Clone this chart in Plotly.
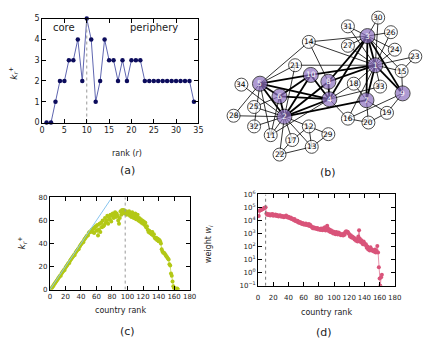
import plotly.graph_objects as go

W, H = 436, 349

# (a) k_r^+ vs rank in the karate club network
rank_a = list(range(1, 35))
kplus_a = [0, 0, 1, 2, 2, 3, 3, 4, 2, 5, 4, 1, 2, 4, 3, 3, 2, 3, 2, 3, 3, 3,
           2, 2, 2, 2, 2, 2, 2, 2, 2, 2, 2, 1]

# (b) network: node positions (pixels of the panel) and edges
node_ids = list(range(1, 35))
node_x = [381, 288, 373, 334, 263, 283, 372, 333, 409, 315, 274, 313, 316, 313, 408, 353, 296,
          359, 393, 374, 299, 283, 422, 401, 257, 397, 353, 236, 333, 384, 353, 257, 386, 244]
node_y = [62, 115, 32, 97, 81, 94, 98, 79, 91, 72, 134, 125, 146, 38, 68, 117, 139,
          81, 111, 121, 62, 154, 53, 46, 105, 28, 42, 114, 133, 13, 22, 125, 84, 82]
edges = [(2, 5), (2, 4), (2, 6), (2, 22), (2, 12), (2, 13), (2, 11), (2, 8), (2, 17), (2, 34),
         (2, 25), (2, 10), (2, 28), (2, 21), (2, 32), (2, 7),
         (5, 4), (5, 6), (5, 11), (5, 10), (5, 28), (5, 21), (5, 32), (5, 14),
         (4, 6), (4, 11), (4, 8), (4, 33), (4, 10), (4, 16), (4, 18), (4, 3),
         (6, 11), (6, 25), (6, 10), (22, 13), (22, 17), (12, 13), (12, 17), (12, 29), (13, 29),
         (8, 14), (8, 3), (8, 1), (33, 1), (10, 1),
         (24, 3), (24, 1), (26, 3), (26, 1), (27, 3), (27, 1), (30, 3), (30, 1), (31, 3), (31, 1),
         (21, 1), (9, 19), (9, 16), (9, 15), (9, 3), (9, 1), (20, 19), (20, 16), (20, 7), (19, 7),
         (23, 15), (23, 1), (16, 1), (18, 7), (18, 1), (15, 3), (15, 1), (14, 3), (14, 1),
         (7, 3), (7, 1), (3, 1)]
n_core = 10

# (c) k_r^+ for countries
kplus_c = [0, 1, 2, 3, 4, 5, 6, 7, 8, 9,
           10, 11, 12, 12, 14, 15, 16, 17, 17, 19,
           20, 21, 22, 23, 23, 25, 26, 27, 28, 29,
           30, 30, 32, 33, 34, 35, 35, 37, 38, 39,
           40, 41, 41, 43, 44, 45, 46, 47, 47, 49,
           50, 50, 51, 52, 50, 53, 49, 54, 55, 51,
           56, 47, 52, 57, 50, 58, 54, 60, 55, 56,
           62, 58, 60, 64, 57, 63, 61, 65, 59, 64,
           66, 62, 65, 67, 63, 66, 64, 60, 57, 62,
           68, 65, 69, 67, 69, 66, 68, 68, 65, 67,
           66, 68, 64, 66, 63, 67, 65, 62, 64, 66,
           61, 63, 65, 60, 62, 59, 61, 58, 60, 57,
           59, 56, 58, 54, 55, 52, 50, 51, 49, 50,
           48, 50, 47, 48, 45, 44, 45, 43, 44, 42,
           43, 42, 40, 35, 33, 32, 32, 31, 30, 29,
           28, 27, 26, 22, 21, 14, 12, 7, 3, 1,
           1, 1, 0, 1, 0]
rank_c = list(range(1, len(kplus_c) + 1))
diag_x = [0, 80]
diag_y = [0, 80]

# (d) weights
weight_d = [2.2e4, 5.5e4, 6e4, 6.5e4, 7e4, 7.5e4, 8e4, 9e4, 9.5e4, 1.05e5,
            3.5e4, 2.8e4, 3.2e4, 2.6e4, 3.0e4, 2.4e4, 2.9e4, 2.7e4, 3.1e4, 2.3e4,
            2.8e4, 2.5e4, 2.9e4, 2.2e4, 2.6e4, 2.4e4, 2.0e4, 2.3e4, 2.5e4, 2.1e4,
            1.9e4, 2.2e4, 2.0e4, 1.8e4, 2.1e4, 1.9e4, 2.4e4, 2.0e4, 1.7e4, 1.9e4,
            1.6e4, 1.5e4, 1.7e4, 1.3e4, 1.4e4, 1.2e4, 1.1e4, 1.3e4, 9e3, 1.0e4,
            8.5e3, 9.5e3, 7e3, 8e3, 6.5e3, 7.5e3, 6e3, 5.5e3, 6.5e3, 5e3,
            5.5e3, 4.8e3, 6e3, 4.5e3, 5e3, 4.2e3, 5.5e3, 3.8e3, 4.5e3, 3.5e3,
            3.2e3, 2.6e3, 3.0e3, 2.4e3, 2.8e3, 2.5e3, 2.2e3, 2.7e3, 2.0e3, 2.3e3,
            2.1e3, 1.9e3, 2.4e3, 2.0e3, 1.8e3, 2.6e3, 2.2e3, 3.0e3, 1.7e3, 2.1e3,
            4e3, 2.5e3, 1.6e3, 2.0e3, 1.3e3, 1.8e3, 1.2e3, 1.5e3, 1.0e3, 1.4e3,
            1.1e3, 9e2, 1.3e3, 1.0e3, 8.5e2, 1.2e3, 9e2, 1.0e3, 7.5e2, 8e2,
            9e2, 7e2, 1.0e3, 8e2, 1.3e3, 1.5e3, 1.2e3, 1.4e3, 1.1e3, 9e2,
            6e2, 7.5e2, 5e2, 6e2, 4.5e2, 5e2, 3.5e2, 4e2, 2.8e2, 3.5e2,
            2.5e2, 6e2, 1.8e3, 4e2, 2.2e2, 3e2, 2.0e2, 1.5e2, 2.5e2, 1.8e2,
            1.3e2, 1.5e2, 8e1, 1e2, 6e1, 7e1, 5e1, 9e1, 5.5e1, 6e1,
            4.5e1, 5e1, 4e1, 6e1, 3.5e1, 4.5e1, 1.1e2, 3.5e1, 2.6, 0.35,
            0.1, 0.45, 0.7]
rank_d = list(range(1, len(weight_d) + 1))

FONT = "DejaVu Sans"
fig = go.Figure()

# panel a
fig.add_trace(go.Scatter(x=rank_a, y=kplus_a, mode="lines+markers",
                         line=dict(color="#5f66b0", width=1),
                         marker=dict(color="#0c0c5c", size=4.5),
                         xaxis="x", yaxis="y", showlegend=False, cliponaxis=False))
fig.add_trace(go.Scatter(x=[10, 10], y=[0, 5], mode="lines",
                         line=dict(color="#999999", width=1, dash="dot"),
                         xaxis="x", yaxis="y", showlegend=False))

# panel b: edges (thick between core nodes)
for thick in (False, True):
    ex, ey = [], []
    for a, b in edges:
        if (a <= n_core and b <= n_core) == thick:
            ex += [node_x[a - 1], node_x[b - 1], None]
            ey += [node_y[a - 1], node_y[b - 1], None]
    fig.add_trace(go.Scatter(x=ex, y=ey, mode="lines",
                             line=dict(color="black", width=1.8 if thick else 0.8),
                             xaxis="x4", yaxis="y4", showlegend=False, hoverinfo="skip"))
fig.add_trace(go.Scatter(
    x=node_x, y=node_y, mode="markers",
    marker=dict(size=[15 if i <= n_core else 13 for i in node_ids],
                color=["#8c70c0" if i <= n_core else "white" for i in node_ids],
                line=dict(color="black", width=1)),
    xaxis="x4", yaxis="y4", showlegend=False, hoverinfo="skip"))
for i in node_ids:
    fig.add_annotation(text=str(i), x=node_x[i - 1], y=node_y[i - 1], xref="x4", yref="y4",
                       showarrow=False, xanchor="center", yanchor="middle",
                       font=dict(family=FONT, size=7.5,
                                 color="white" if i <= n_core else "black"))

# panel c
fig.add_trace(go.Scatter(x=rank_c, y=kplus_c, mode="lines+markers",
                         line=dict(color="#c8d84a", width=0.8),
                         marker=dict(color="#b3c816", size=4),
                         xaxis="x2", yaxis="y2", showlegend=False))
fig.add_trace(go.Scatter(x=diag_x, y=diag_y, mode="lines",
                         line=dict(color="#88c4ee", width=1),
                         xaxis="x2", yaxis="y2", showlegend=False))
fig.add_trace(go.Scatter(x=[97, 97], y=[0, 80], mode="lines",
                         line=dict(color="#999999", width=1, dash="dot"),
                         xaxis="x2", yaxis="y2", showlegend=False))

# panel d
fig.add_trace(go.Scatter(x=rank_d, y=weight_d, mode="lines+markers",
                         line=dict(color="#e07a97", width=0.8),
                         marker=dict(color="#d9547a", size=4),
                         xaxis="x3", yaxis="y3", showlegend=False))
fig.add_trace(go.Scatter(x=[10, 10], y=[0.1, 1e6], mode="lines",
                         line=dict(color="#777777", width=1, dash="dot"),
                         xaxis="x3", yaxis="y3", showlegend=False))


def px(a, b):
    return [a / W, b / W]


def py(top, bottom):
    return [1 - bottom / H, 1 - top / H]


ax = dict(showline=True, linecolor="black", linewidth=1, mirror="allticks",
          ticks="inside", ticklen=4, tickcolor="black", showgrid=False, zeroline=False,
          tickangle=0, tickfont=dict(family=FONT, size=8, color="#222222"))
ax_small = dict(ax, tickfont=dict(family=FONT, size=7, color="#222222"))

logvals = [10 ** e for e in range(-1, 7)]
logtext = ["10<sup>%d</sup>" % e if e >= 0 else "10<sup>\u22121</sup>" for e in range(-1, 7)]

fig.update_layout(
    width=W, height=H, margin=dict(l=0, r=0, t=0, b=0),
    paper_bgcolor="white", plot_bgcolor="rgba(0,0,0,0)",
    xaxis=dict(ax, domain=px(40, 200), range=[0, 35], dtick=5, anchor="y"),
    yaxis=dict(ax, domain=py(14, 121), range=[0, 5], dtick=1, anchor="x"),
    xaxis2=dict(ax_small, domain=px(48, 191), range=[0, 180], dtick=20, anchor="y2"),
    yaxis2=dict(ax_small, domain=py(198, 293), range=[0, 80], dtick=20, anchor="x2"),
    xaxis3=dict(ax_small, domain=px(261, 401), range=[0, 180], dtick=20, anchor="y3",
                ticklabelstandoff=5),
    yaxis3=dict(ax_small, domain=py(195, 289), type="log", range=[-1, 6], anchor="x3",
                tickvals=logvals, ticktext=logtext),
    xaxis4=dict(domain=px(222, 436), range=[222, 436], visible=False, anchor="y4"),
    yaxis4=dict(domain=py(0, 165), range=[165, 0], visible=False, anchor="x4"),
)

ann = [
    ("core", 5, 4.55, "x", "y", 10, 0),
    ("periphery", 25, 4.55, "x", "y", 10, 0),
]
for t, x, y, xr, yr, s, ang in ann:
    fig.add_annotation(text=t, x=x, y=y, xref=xr, yref=yr, showarrow=False,
                       xanchor="center", yanchor="middle",
                       font=dict(family=FONT, size=s, color="#222222"), textangle=ang)

labels = [
    ("<i>k</i><sub><i>r</i></sub><sup>+</sup>", 11, 70, 9, -90),
    ("rank (<i>r</i>)", 127, 153, 8, 0),
    ("(a)", 127, 170, 11, 0),
    ("(b)", 333, 172, 11, 0),
    ("<i>k</i><sub><i>r</i></sub><sup>+</sup>", 20, 245, 9, -90),
    ("country rank", 120, 314, 8, 0),
    ("(c)", 127, 336, 11, 0),
    ("weight <i>w</i><sub><i>i</i></sub>", 211, 246, 8, -90),
    ("country rank", 331, 317, 8, 0),
    ("(d)", 329, 337, 11, 0),
]
for t, x, y, s, ang in labels:
    fig.add_annotation(text=t, x=x / W, y=1 - y / H, xref="paper", yref="paper",
                       showarrow=False, textangle=ang, xanchor="center", yanchor="middle",
                       font=dict(family=FONT, size=s, color="#222222"))

# page body has a default 8px margin, drop it so the figure sits at the top-left corner
fig.write_html("out.html", config={"displayModeBar": False},
               post_script="document.body.style.margin='0';")
